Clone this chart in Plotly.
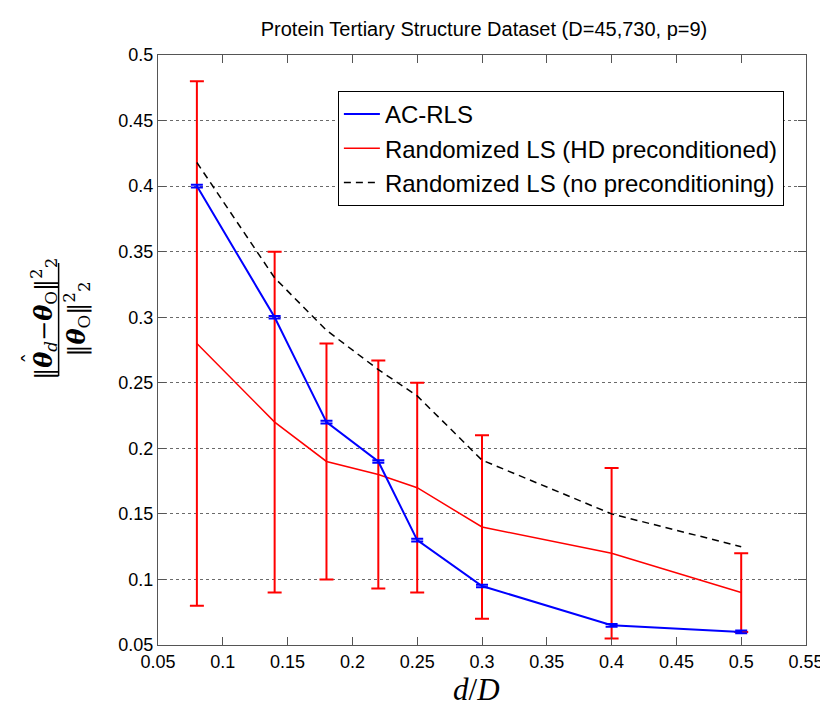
import plotly.graph_objects as go

x_vals = [0.08, 0.14, 0.18, 0.22, 0.25, 0.30, 0.40, 0.50]
ac_rls = [0.400, 0.300, 0.220, 0.190, 0.130, 0.095, 0.065, 0.060]
ac_rls_err = [0.001, 0.001, 0.001, 0.001, 0.001, 0.001, 0.001, 0.001]
hd_ls = [0.280, 0.220, 0.190, 0.180, 0.170, 0.140, 0.120, 0.090]
hd_ls_err = [0.200, 0.130, 0.090, 0.087, 0.080, 0.070, 0.065, 0.030]
no_pre = [0.418, 0.330, 0.290, 0.260, 0.240, 0.191, 0.150, 0.125]

names = ["AC-RLS", "Randomized LS (HD preconditioned)", "Randomized LS (no preconditioning)"]
title_text = "Protein Tertiary Structure Dataset (D=45,730, p=9)"

fig = go.Figure()
fig.add_trace(go.Scatter(
    x=x_vals, y=hd_ls, mode="lines", name=names[1], legendrank=2,
    line=dict(color="#ff0000", width=1.5),
    error_y=dict(type="data", array=hd_ls_err, visible=True, color="#ff0000",
                 thickness=2, width=7),
))
fig.add_trace(go.Scatter(
    x=x_vals, y=ac_rls, mode="lines", name=names[0], legendrank=1,
    line=dict(color="#0000ff", width=2),
    error_y=dict(type="data", array=ac_rls_err, visible=True, color="#0000ff",
                 thickness=2, width=6),
))
fig.add_trace(go.Scatter(
    x=x_vals, y=no_pre, mode="lines", name=names[2], legendrank=3,
    line=dict(color="#000000", width=1.5, dash="7px,5px"),
))

L, R, T, B = 150, 26, 47, 67
W, H = 828, 704
pw, ph = W - L - R, H - T - B

def px_x(p):
    return (p - L) / pw

def px_y(p):
    return (H - B - p) / ph

axis_common = dict(
    showline=True, linecolor="#555555", linewidth=1, mirror="ticks",
    ticks="inside", ticklen=8, tickcolor="#555555", tickwidth=1,
    tickfont=dict(family="Liberation Sans, Arial, sans-serif", size=18, color="#000000"),
    zeroline=False,
)

fig.update_layout(
    width=W, height=H,
    margin=dict(l=L, r=R, t=T, b=B),
    paper_bgcolor="white", plot_bgcolor="white",
    title=dict(text=title_text, x=(L + pw / 2) / W, xanchor="center",
               y=1 - 21 / H, yanchor="middle",
               font=dict(family="Liberation Sans, Arial, sans-serif", size=20, color="#000000")),
    xaxis=dict(range=[0.05, 0.55], dtick=0.05, tick0=0.05, showgrid=False, **axis_common),
    yaxis=dict(range=[0.05, 0.5], dtick=0.05, tick0=0.05, showgrid=True,
               gridcolor="#6a6a6a", griddash="dot", gridwidth=1, **axis_common),
    legend=dict(
        x=px_x(331), y=px_y(83), xanchor="left", yanchor="top",
        bgcolor="white", bordercolor="#000000", borderwidth=1,
        font=dict(family="Liberation Sans, Arial, sans-serif", size=24, color="#000000"),
        itemwidth=36, traceorder="normal", tracegroupgap=0,
    ),
    showlegend=True,
)

# x-axis label
fig.add_annotation(
    text="<i>d</i>/<i>D</i>", xref="paper", yref="paper",
    x=px_x(470), y=px_y(681), xanchor="center", yanchor="middle", showarrow=False,
    borderpad=0,
    font=dict(family="Liberation Serif, DejaVu Serif, serif", size=31, color="#000000"),
)

# y-axis label as a rotated fraction
num = "‖<b><i>θ</i></b><sub><i>d</i></sub>−<b><i>θ</i></b><sub>O</sub>‖<sup>2</sup><sub>2</sub>"
den = "‖<b><i>θ</i></b><sub>O</sub>‖<sup>2</sup><sub>2</sub>"
fig.add_annotation(
    text=num, xref="paper", yref="paper",
    x=px_x(34), y=px_y(311), xanchor="center", yanchor="middle",
    textangle=-90, showarrow=False,
    font=dict(family="DejaVu Serif, Liberation Serif, serif", size=24, color="#000000"),
)
# hat over the first theta of the numerator
fig.add_annotation(
    text="ˆ", xref="paper", yref="paper",
    x=px_x(22), y=px_y(350), xanchor="center", yanchor="middle",
    textangle=-90, showarrow=False,
    font=dict(family="DejaVu Serif, Liberation Serif, serif", size=22, color="#000000"),
)
fig.add_annotation(
    text=den, xref="paper", yref="paper",
    x=px_x(67), y=px_y(311), xanchor="center", yanchor="middle",
    textangle=-90, showarrow=False,
    font=dict(family="DejaVu Serif, Liberation Serif, serif", size=24, color="#000000"),
)
fig.add_shape(type="line", xref="paper", yref="paper",
              x0=px_x(50), x1=px_x(50),
              y0=px_y(255), y1=px_y(368),
              line=dict(color="#000000", width=1.5))

fig.write_html("out.html")
